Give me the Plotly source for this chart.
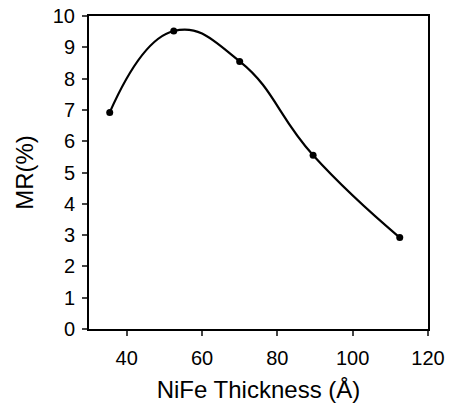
import plotly.graph_objects as go

# NiFe thickness (Angstrom) and magnetoresistance (%)
thickness = [35.5, 52.5, 70, 89.5, 112.5]
mr = [6.92, 9.52, 8.55, 5.55, 2.92]

x_ticks = [40, 60, 80, 100, 120]
y_ticks = [0, 1, 2, 3, 4, 5, 6, 7, 8, 9, 10]

fig = go.Figure()

fig.add_trace(go.Scatter(
    x=thickness,
    y=mr,
    mode="lines+markers",
    line=dict(color="black", width=2.2, shape="spline", smoothing=1.3),
    marker=dict(color="black", size=7),
    showlegend=False,
    cliponaxis=False
))

fig.update_layout(
    width=451,
    height=403,
    margin=dict(l=89, r=23, t=16, b=74, autoexpand=False),
    paper_bgcolor="white",
    plot_bgcolor="white",
    font=dict(family="Liberation Sans, Arial, sans-serif", size=20, color="black")
)

fig.update_xaxes(
    range=[30, 120],
    tickvals=x_ticks,
    ticks="outside",
    ticklen=5,
    tickwidth=1.5,
    ticklabelstandoff=5,
    showline=True,
    linecolor="black",
    linewidth=2,
    mirror=True,
    showgrid=False,
    zeroline=False,
    automargin=False,
    title=dict(text="NiFe Thickness (Å)", standoff=14)
)

fig.update_yaxes(
    range=[0, 10],
    tickvals=y_ticks,
    ticks="outside",
    ticklen=5,
    tickwidth=1.5,
    ticklabelstandoff=3,
    showline=True,
    linecolor="black",
    linewidth=2,
    mirror=True,
    showgrid=False,
    zeroline=False,
    automargin=False,
    title=dict(text="MR(%)", standoff=12)
)

# drop the default page margin so the figure sits at the window corner
fig.write_html(
    "out.html",
    config={"displayModeBar": False},
    post_script="document.body.style.margin='0';"
)
